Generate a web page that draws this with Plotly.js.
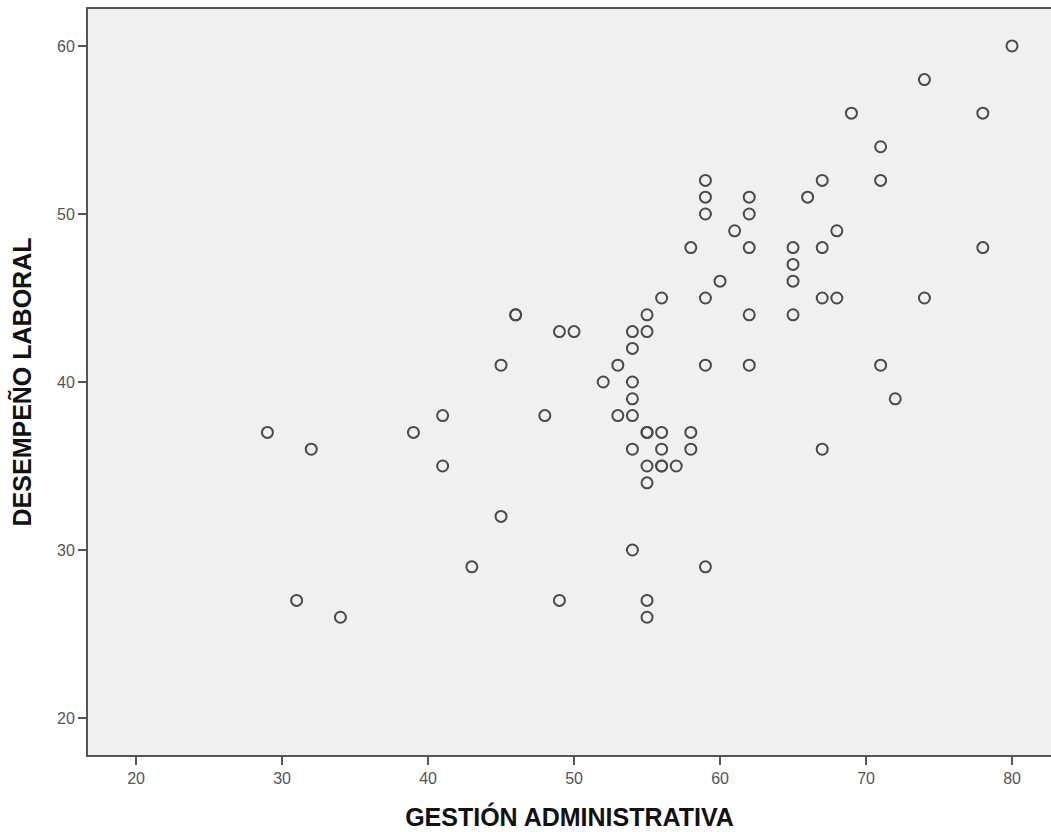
<!DOCTYPE html>
<html>
<head>
<meta charset="utf-8">
<script src="https://cdn.plot.ly/plotly-3.0.1.min.js"></script>
<style>html,body{margin:0;padding:0;background:#fff;}#chart{width:1051px;height:832px;}</style>
</head>
<body>
<div id="chart"></div>
<script>
const gestionAdministrativa = [29,31,32,34,39,41,41,43,45,45,46,46,48,49,49,50,52,53,53,54,54,54,54,54,54,54,55,55,55,55,55,55,55,55,56,56,56,56,56,57,58,58,58,59,59,59,59,59,59,60,61,62,62,62,62,62,65,65,65,65,66,67,67,67,67,68,68,69,71,71,71,72,74,74,78,78,80];
const desempenoLaboral   = [37,27,36,26,37,38,35,29,41,32,44,44,38,43,27,43,40,41,38,43,42,40,39,38,36,30,44,43,37,37,35,34,27,26,45,37,36,35,35,35,48,37,36,52,51,50,45,41,29,46,49,51,50,48,44,41,48,47,46,44,51,52,48,45,36,49,45,56,54,52,41,39,58,45,56,48,60];
const xTicks = [20,30,40,50,60,70,80];
const yTicks = [20,30,40,50,60];

const trace = {
  x: gestionAdministrativa,
  y: desempenoLaboral,
  type: 'scatter',
  mode: 'markers',
  marker: {symbol: 'circle-open', size: 11, color: '#4a4a4a', line: {width: 2, color: '#4a4a4a'}},
  hoverinfo: 'x+y'
};

const layout = {
  width: 1051, height: 832,
  margin: {l: 88, r: 0, t: 9, b: 77, autoexpand: false},
  paper_bgcolor: '#ffffff',
  plot_bgcolor: '#f0f0f0',
  showlegend: false,
  font: {family: 'Liberation Sans, Arial, sans-serif', color: '#333'},
  xaxis: {
    range: [16.71, 82.67],
    tickvals: xTicks,
    ticktext: xTicks.map(String),
    showgrid: false, zeroline: false,
    showline: true, linecolor: '#555', linewidth: 2, mirror: true,
    ticks: 'outside', ticklen: 8, tickwidth: 2, tickcolor: '#555',
    tickfont: {size: 16, color: '#555'},
    automargin: false,
    title: {text: 'GESTIÓN ADMINISTRATIVA', font: {size: 25, color: '#111', family: 'Liberation Sans, Arial, sans-serif', weight: 'bold'}, standoff: 22}
  },
  yaxis: {
    range: [17.8, 62.2],
    tickvals: yTicks,
    ticktext: yTicks.map(String),
    showgrid: false, zeroline: false,
    showline: true, linecolor: '#555', linewidth: 2,
    ticks: 'outside', ticklen: 8, tickwidth: 2, tickcolor: '#555',
    tickfont: {size: 16, color: '#555'},
    automargin: false,
    title: {text: 'DESEMPEÑO LABORAL', font: {size: 25, color: '#111', family: 'Liberation Sans, Arial, sans-serif', weight: 'bold'}, standoff: 18}
  }
};

Plotly.newPlot('chart', [trace], layout, {displayModeBar: false, staticPlot: true});
</script>
</body>
</html>
